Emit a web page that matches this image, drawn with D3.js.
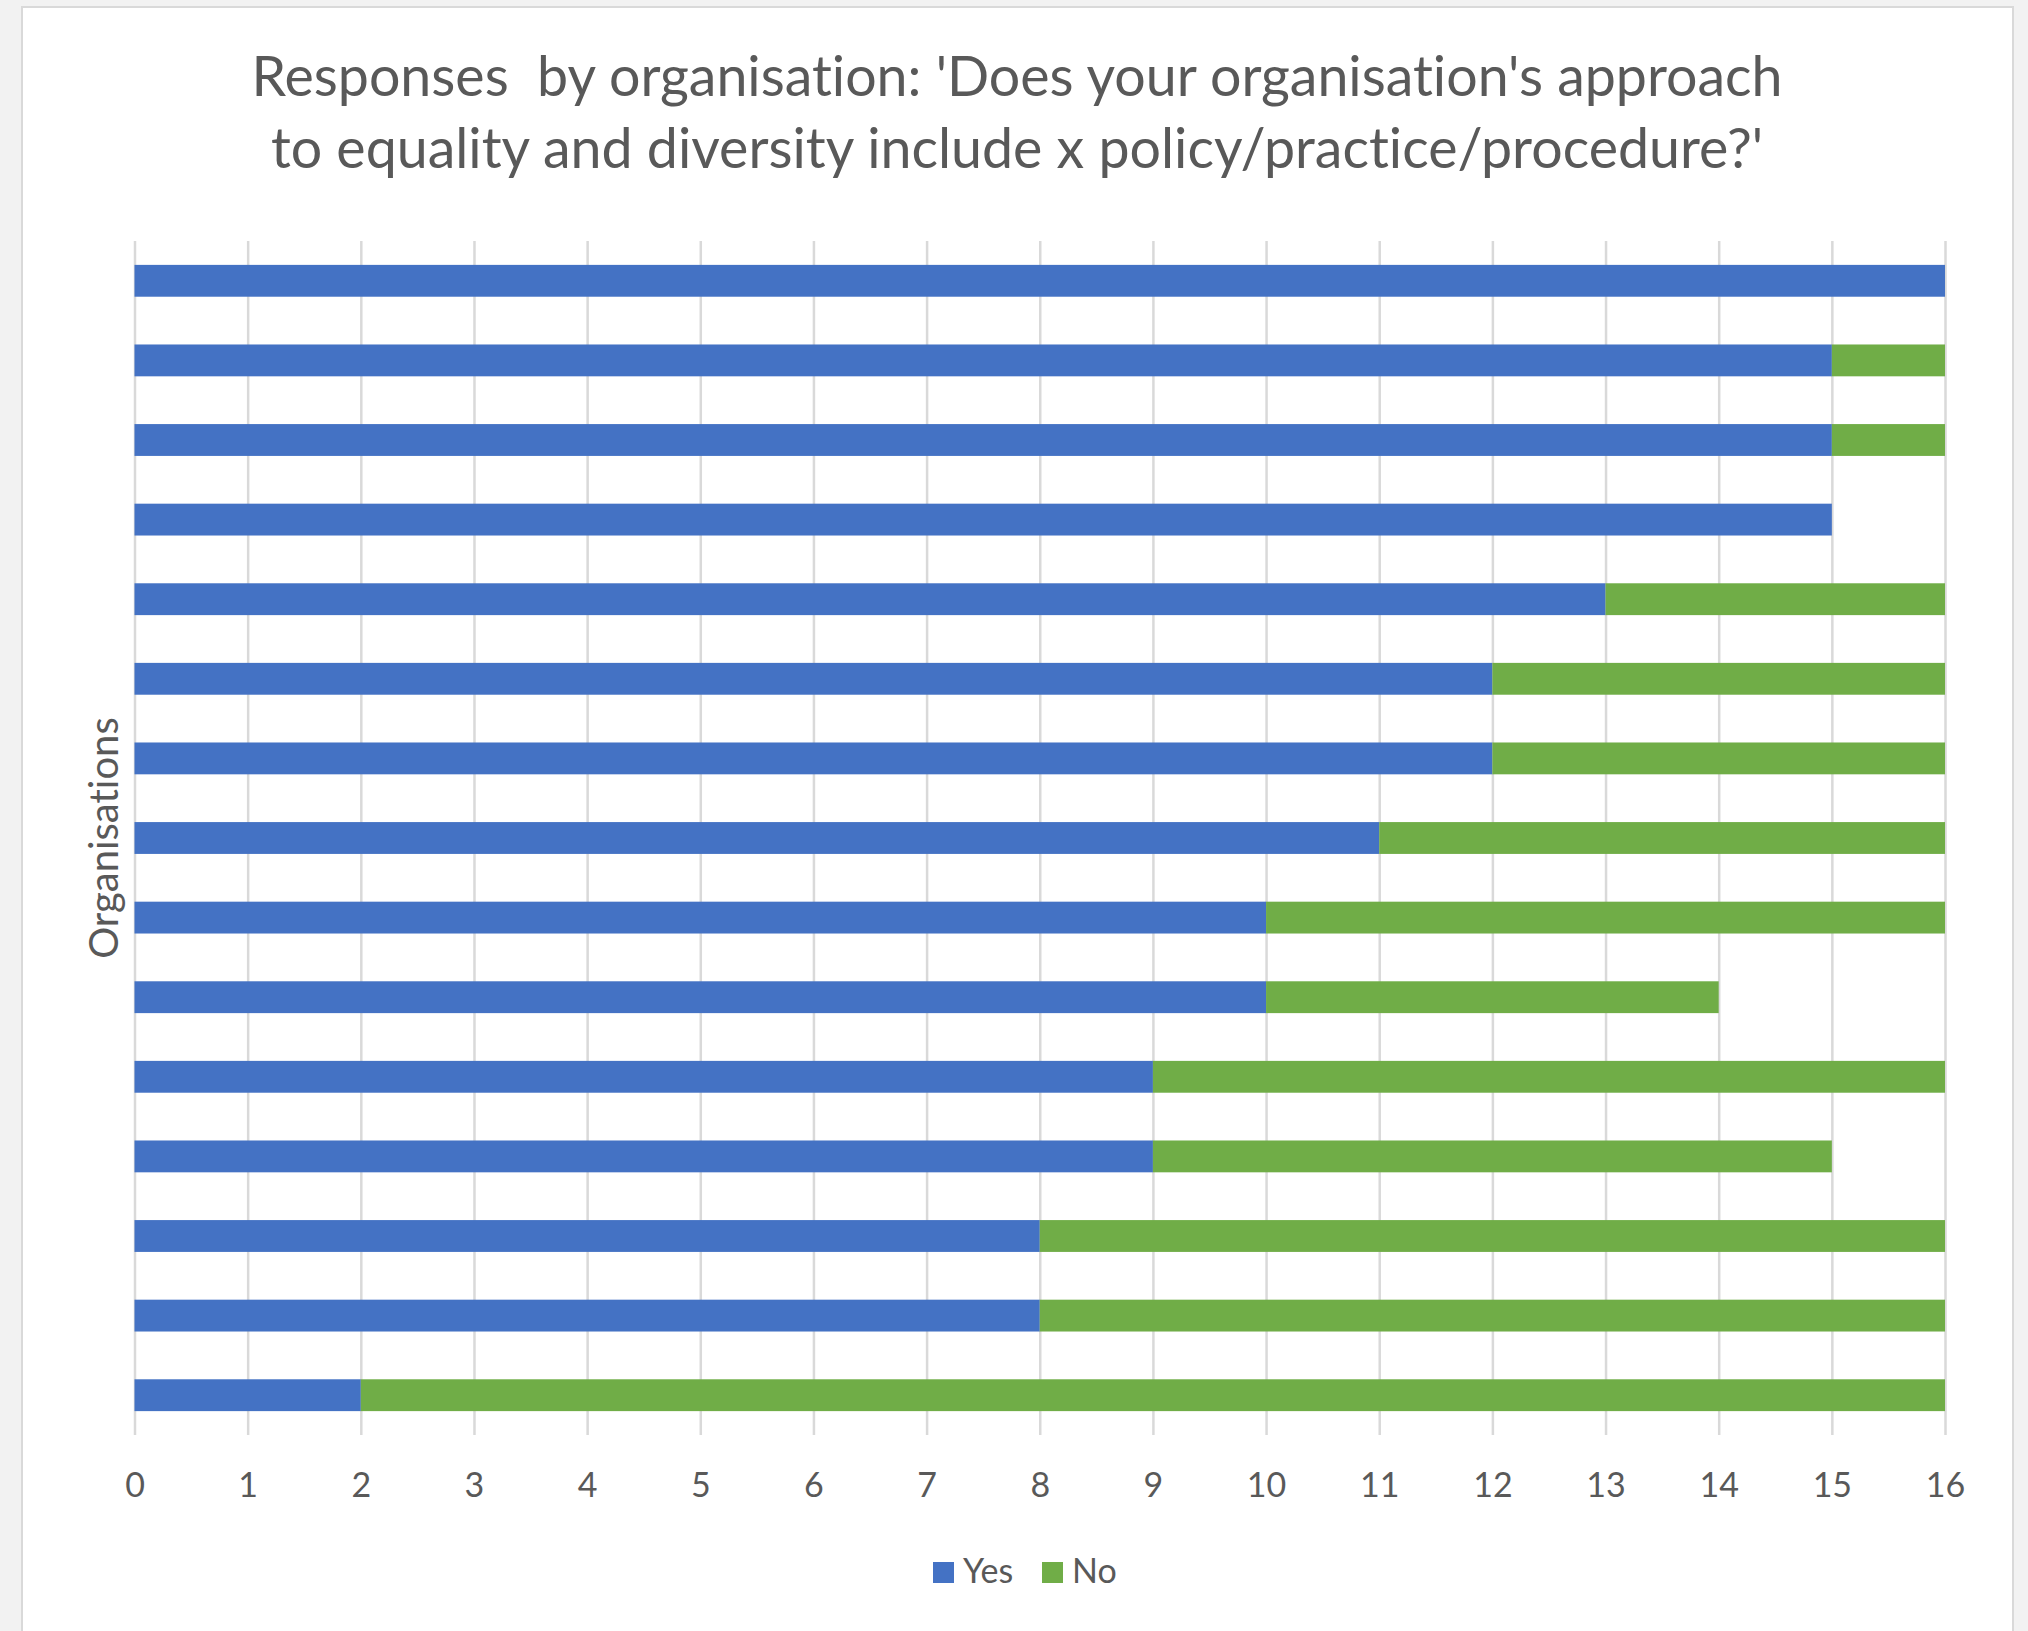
<!DOCTYPE html>
<html>
<head>
<meta charset="utf-8">
<script src="https://cdn.jsdelivr.net/npm/d3@7"></script>
<style>
  html, body { margin: 0; padding: 0; background: #f2f2f2; }
  svg { display: block; }
  text { font-family: Lato, "Open Sans", sans-serif; fill: #595959; font-variant-ligatures: none; }
</style>
</head>
<body>
<svg id="chart" width="2028" height="1631"></svg>
<script>
// ---- Data ----
const categories = ["Org 1","Org 2","Org 3","Org 4","Org 5","Org 6","Org 7","Org 8",
                    "Org 9","Org 10","Org 11","Org 12","Org 13","Org 14","Org 15"];
const yesValues = [16, 15, 15, 15, 13, 12, 12, 11, 10, 10, 9, 9, 8, 8, 2];
const noValues  = [0, 1, 1, 0, 3, 4, 4, 5, 6, 4, 7, 6, 8, 8, 14];
const seriesNames = ["Yes", "No"];
const xTicks = [0,1,2,3,4,5,6,7,8,9,10,11,12,13,14,15,16];
const titleLines = ["Responses  by organisation: 'Does your organisation's approach",
                    "to equality and diversity include x policy/practice/procedure?'"];
const yAxisTitle = "Organisations";

const colors = { Yes: "#4472C4", No: "#70AD47" };

// ---- Layout ----
const W = 2028, H = 1631;
const plot = { left: 134.5, right: 1945, top: 241, bottom: 1435 };

const svg = d3.select("#chart");

// card
svg.append("rect").attr("x", 0).attr("y", 0).attr("width", W).attr("height", H).attr("fill", "#f2f2f2");
svg.append("rect").attr("x", 22).attr("y", 7).attr("width", 1991).attr("height", H)
   .attr("fill", "#ffffff").attr("stroke", "#d9d9d9").attr("stroke-width", 2);

const x = d3.scaleLinear().domain([0, 16]).range([plot.left, plot.right]);
const y = d3.scaleBand().domain(categories).range([plot.top, plot.bottom])
            .paddingInner(0.6).paddingOuter(0.3);

// gridlines + tick labels
const xAxis = d3.axisBottom(x).tickValues(xTicks).tickFormat(d3.format("d"))
   .tickSize(-(plot.bottom - plot.top)).tickPadding(38);
const gx = svg.append("g").attr("transform", `translate(0,${plot.bottom})`).call(xAxis);
gx.select(".domain").remove();
gx.selectAll(".tick line").attr("stroke", "#d9d9d9").attr("stroke-width", 2.5);
gx.selectAll(".tick text").attr("font-size", 34).style("fill", "#595959")
  .style("font-family", "Lato, 'Open Sans', sans-serif");

// stacked data
const rows = categories.map((c, i) => ({ cat: c, Yes: yesValues[i], No: noValues[i] }));
const stack = d3.stack().keys(seriesNames)(rows);

svg.append("g").selectAll("g").data(stack).join("g")
  .attr("fill", d => colors[d.key])
  .selectAll("rect").data(d => d).join("rect")
  .attr("x", d => x(d[0]))
  .attr("width", d => x(d[1]) - x(d[0]))
  .attr("y", d => y(d.data.cat))
  .attr("height", y.bandwidth());

// title
const title = svg.append("text").attr("text-anchor", "middle").attr("font-size", 55.5)
  .attr("xml:space", "preserve");
titleLines.forEach((t, i) => {
  title.append("tspan").attr("x", 1017).attr("y", 96 + i * 72).text(t);
});

// y axis title
svg.append("text")
  .attr("transform", `translate(118,${(plot.top + plot.bottom) / 2}) rotate(-90)`)
  .attr("text-anchor", "middle").attr("font-size", 40).text(yAxisTitle);

// legend
const legend = svg.append("g").attr("transform", "translate(933,1562)");
const items = [{ key: "Yes", dx: 0 }, { key: "No", dx: 109 }];
items.forEach(it => {
  const g = legend.append("g").attr("transform", `translate(${it.dx},0)`);
  g.append("rect").attr("width", 21).attr("height", 21).attr("fill", colors[it.key]);
  g.append("text").attr("x", 30).attr("y", 21).attr("font-size", 34).text(it.key);
});
</script>
</body>
</html>
